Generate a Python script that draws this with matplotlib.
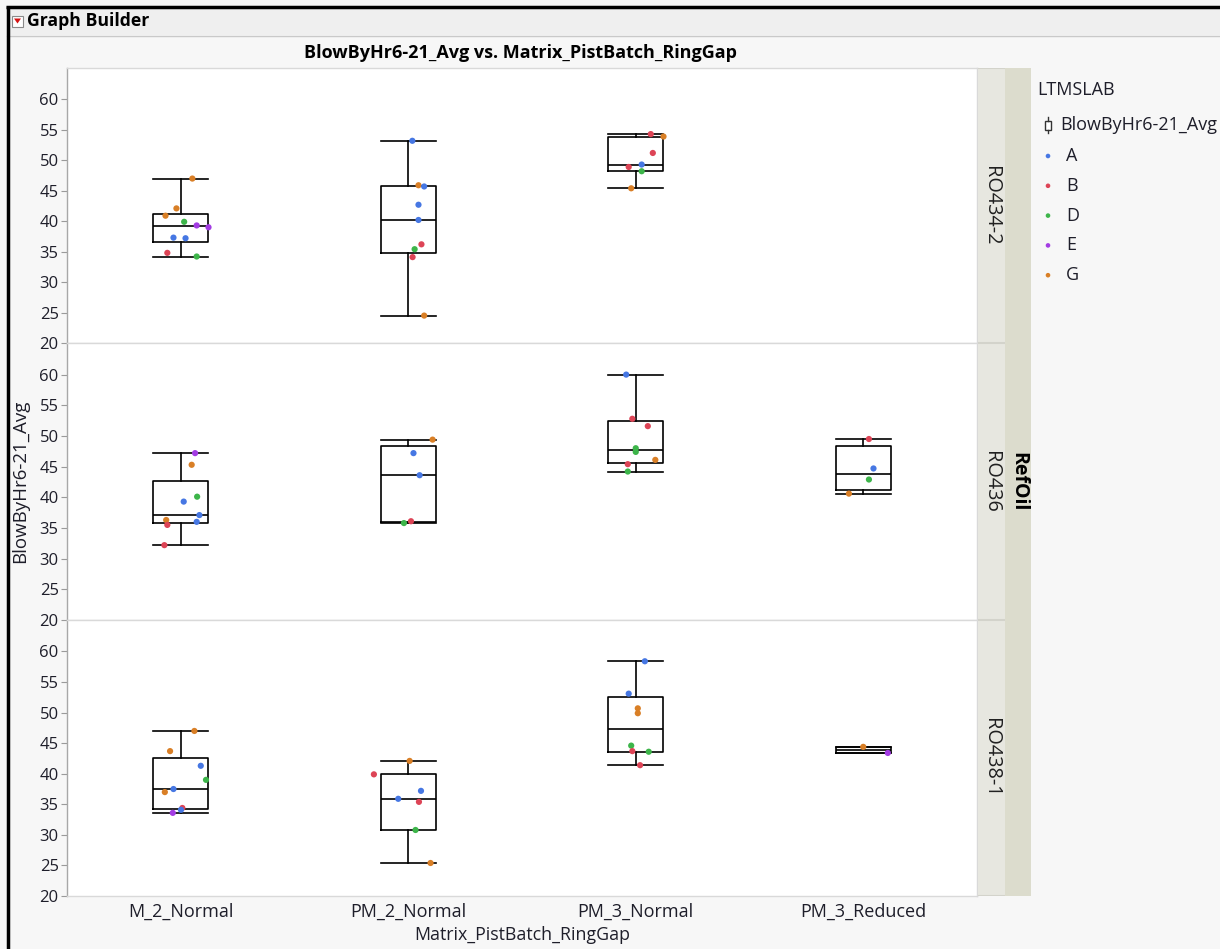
import numpy as np
import matplotlib.pyplot as plt
from matplotlib.patches import Rectangle, Polygon

plt.rcParams['font.family'] = ['Open Sans', 'DejaVu Sans']

# ---- data ----
categories = ['M_2_Normal', 'PM_2_Normal', 'PM_3_Normal', 'PM_3_Reduced']
refoils = ['RO434-2', 'RO436', 'RO438-1']
lab_names = ['A', 'B', 'D', 'E', 'G']
lab_colors = ['#4677E3', '#DD4456', '#3DB54A', '#A33CE3', '#D97F26']

ro434_vals = [[47.0, 42.1, 40.9, 39.9, 39.3, 39.0, 37.3, 37.2, 34.8, 34.2],
              [53.2, 45.9, 45.7, 42.7, 40.2, 36.2, 35.4, 34.1, 24.5],
              [54.3, 53.9, 51.2, 49.3, 48.9, 48.2, 45.4],
              []]
ro434_labs = [['G', 'G', 'G', 'D', 'E', 'E', 'A', 'A', 'B', 'D'],
              ['A', 'G', 'A', 'A', 'A', 'B', 'D', 'B', 'G'],
              ['B', 'G', 'B', 'A', 'B', 'D', 'G'],
              []]
ro434_jit = [[0.051, -0.019, -0.067, 0.015, 0.070, 0.122, -0.032, 0.021, -0.059, 0.070],
             [0.018, 0.045, 0.070, 0.045, 0.045, 0.058, 0.028, 0.019, 0.070],
             [0.066, 0.122, 0.075, 0.026, -0.031, 0.026, -0.020],
             []]

ro436_vals = [[47.2, 45.3, 40.1, 39.3, 37.1, 36.3, 36.0, 35.5, 32.2],
              [49.4, 47.2, 43.6, 36.1, 35.8],
              [60.0, 52.8, 51.6, 48.0, 47.4, 46.1, 45.4, 44.2],
              [49.5, 44.7, 42.9, 40.6]]
ro436_labs = [['E', 'G', 'D', 'A', 'A', 'G', 'A', 'B', 'B'],
              ['G', 'A', 'A', 'B', 'D'],
              ['A', 'B', 'B', 'D', 'D', 'G', 'B', 'D'],
              ['B', 'A', 'D', 'G']]
ro436_jit = [[0.063, 0.048, 0.072, 0.013, 0.082, -0.064, 0.070, -0.059, -0.072],
             [0.107, 0.023, 0.050, 0.012, -0.019],
             [-0.042, -0.015, 0.053, 0.0, 0.0, 0.086, -0.035, -0.035],
             [0.025, 0.045, 0.025, -0.063]]

ro438_vals = [[47.0, 43.7, 41.3, 39.0, 37.5, 37.0, 34.4, 34.1, 33.6],
              [42.1, 39.9, 37.2, 35.9, 35.4, 30.8, 25.4],
              [58.4, 53.1, 50.7, 49.9, 44.6, 43.7, 43.6, 41.4],
              [44.4, 43.4]]
ro438_labs = [['G', 'G', 'A', 'D', 'A', 'G', 'B', 'A', 'E'],
              ['G', 'B', 'A', 'A', 'B', 'D', 'G'],
              ['A', 'A', 'G', 'G', 'D', 'B', 'D', 'B'],
              ['G', 'E']]
ro438_jit = [[0.060, -0.047, 0.088, 0.111, -0.032, -0.070, 0.007, 0.001, -0.035],
             [0.006, -0.151, 0.056, -0.044, 0.047, 0.032, 0.098],
             [0.040, -0.031, 0.009, 0.009, -0.020, -0.015, 0.057, 0.019],
             [0.0, 0.108]]

panel_vals = [ro434_vals, ro436_vals, ro438_vals]
panel_labs = [ro434_labs, ro436_labs, ro438_labs]
panel_jit = [ro434_jit, ro436_jit, ro438_jit]
y_ticks = list(range(20, 61, 5))

# ---- layout helpers (pixels) ----
W, H = 1220, 949


def rect(x0, y0, x1, y1):
    return [x0 / W, 1 - y1 / H, (x1 - x0) / W, (y1 - y0) / H]


def box_stats(v):
    # JMP style quantiles ((n+1)p) and 1.5 IQR whiskers
    v = np.asarray(v)
    q1, med, q3 = np.percentile(v, [25, 50, 75], method='weibull')
    iqr = q3 - q1
    lo = v[v >= q1 - 1.5 * iqr].min()
    hi = v[v <= q3 + 1.5 * iqr].max()
    return dict(med=med, q1=q1, q3=q3, whislo=lo, whishi=hi, fliers=[])


color_of = dict(zip(lab_names, lab_colors))
text_col = '#1E1E2A'

fig = plt.figure(figsize=(W / 100, H / 100), dpi=100, facecolor='#F7F7F7')

# background / frame
bg = fig.add_axes([0, 0, 1, 1])
bg.set_xlim(0, W)
bg.set_ylim(H, 0)
bg.axis('off')
bg.add_patch(Rectangle((7, 7), W, 28, fc='#EFEFEF', ec='none'))
bg.plot([7, W], [35.5, 35.5], color='#C9C9C9', lw=1)
bg.plot([7.5, 7.5], [6, H], color='black', lw=2.5, solid_capstyle='butt')
bg.plot([6, W], [6.5, 6.5], color='black', lw=2.5, solid_capstyle='butt')
bg.add_patch(Rectangle((12, 15.5), 11, 11, fc='white', ec='#8A8A8A', lw=0.8))
bg.add_patch(Polygon([[14, 18.5], [21, 18.5], [17.5, 23.5]], closed=True, fc='#D41414', ec='none'))
bg.text(27, 21, 'Graph Builder', fontsize=12.7, fontweight='bold', va='center', ha='left', color='black')

fig.text(520 / W, 1 - 53 / H, 'BlowByHr6-21_Avg vs. Matrix_PistBatch_RingGap',
         fontsize=13, fontweight='bold', ha='center', va='center', color='black')

panel_px = [(68, 343), (343, 620), (620, 896)]

for p, (top, bot) in enumerate(panel_px):
    ax = fig.add_axes(rect(67, top, 977, bot))
    ax.set_facecolor('white')
    ax.set_xlim(-0.5, 3.5)
    ax.set_ylim(20, 65.15)
    for c in range(len(categories)):
        vals = panel_vals[p][c]
        if not vals:
            continue
        ax.bxp([box_stats(vals)], positions=[c], widths=0.24, capwidths=0.24,
               showfliers=False, patch_artist=False,
               boxprops=dict(color='black', lw=1.2),
               medianprops=dict(color='black', lw=1.2),
               whiskerprops=dict(color='black', lw=1.2),
               capprops=dict(color='black', lw=1.2))
        xs = [c + j for j in panel_jit[p][c]]
        cols = [color_of[l] for l in panel_labs[p][c]]
        ax.scatter(xs, vals, c=cols, s=20, edgecolors='none', zorder=3)
    ax.set_yticks(y_ticks)
    ax.tick_params(axis='y', length=4, width=0.8, color='#9A9A9A', pad=2,
                   labelsize=12, labelcolor=text_col)
    if p == 2:
        ax.set_xticks(range(len(categories)), categories)
        ax.tick_params(axis='x', length=0, pad=5, labelsize=13, labelcolor=text_col)
    else:
        ax.set_xticks([])
    for s in ['top', 'bottom', 'right']:
        ax.spines[s].set_color('#D9D9D9')
        ax.spines[s].set_linewidth(1)
    ax.spines['left'].set_color('#A8A8A8')
    ax.spines['left'].set_linewidth(1)

    st = fig.add_axes(rect(978, top, 1005, bot))
    st.set_facecolor('#E7E7E0')
    st.set_xticks([])
    st.set_yticks([])
    for s in st.spines.values():
        s.set_visible(False)
    st.axhline(1, color='#D3D3CB', lw=1.5)
    st.axhline(0, color='#D3D3CB', lw=1.5)
    st.text(0.5, 0.5, refoils[p], rotation=270, ha='center', va='center',
            fontsize=14.3, color='#202020', transform=st.transAxes)

outer = fig.add_axes(rect(1005, 68, 1031, 896))
outer.set_facecolor('#DCDCCD')
outer.set_xticks([])
outer.set_yticks([])
for s in outer.spines.values():
    s.set_visible(False)
outer.text(0.5, 0.5, 'RefOil', rotation=270, ha='center', va='center',
           fontsize=14, fontweight='bold', color='black', transform=outer.transAxes)

fig.text(20 / W, 1 - 481 / H, 'BlowByHr6-21_Avg', rotation=90, ha='center', va='center',
         fontsize=13.5, color=text_col)
fig.text(522 / W, 1 - 935 / H, 'Matrix_PistBatch_RingGap', ha='center', va='center',
         fontsize=12.8, color=text_col)

# legend
bg.text(1037, 90, 'LTMSLAB', fontsize=13, va='center', ha='left', color=text_col)
bg.add_patch(Rectangle((1045, 120.5), 6, 9, fc='white', ec='#333333', lw=1))
bg.plot([1048, 1048], [117, 120.5], color='#333333', lw=1)
bg.plot([1048, 1048], [129.5, 133], color='#333333', lw=1)
bg.text(1060, 125, 'BlowByHr6-21_Avg', fontsize=13, va='center', ha='left', color=text_col)
for k, (name, col) in enumerate(zip(lab_names, lab_colors)):
    yy = 156 + 29.8 * k
    bg.scatter([1048], [yy], s=11, color=col, edgecolors='none')
    bg.text(1066, yy, name, fontsize=13, va='center', ha='left', color=text_col)

fig.savefig('out.png', dpi=100, facecolor=fig.get_facecolor())
